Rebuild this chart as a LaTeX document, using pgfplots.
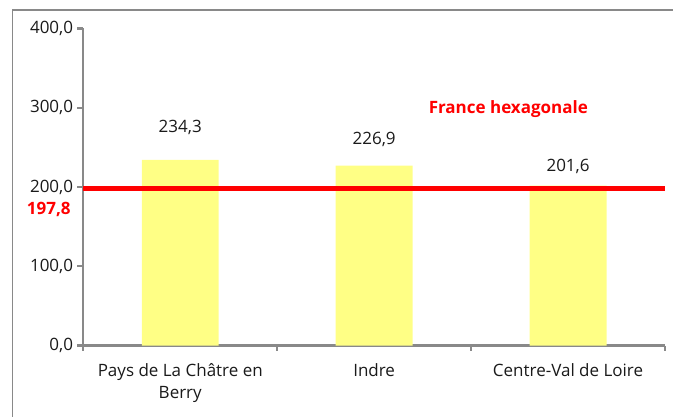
\documentclass[border=0pt]{standalone}
\usepackage{pgfplots}
\pgfplotsset{compat=1.18}
\usepackage{fontspec}
\setmainfont{Open Sans}
\definecolor{axisgray}{RGB}{137,137,137}
\definecolor{baryellow}{RGB}{255,255,133}
\definecolor{txt}{RGB}{26,26,26}
\begin{document}
\begin{tikzpicture}
\path[use as bounding box] (-83.3bp,-71.5bp) rectangle (589.7bp,345.5bp);
\draw[axisgray, line width=1.5bp] (-70.6bp,-75bp) -- (-70.6bp,335.5bp) -- (595bp,335.5bp);
\begin{axis}[
  at={(0bp,0bp)}, anchor=south west,
  scale only axis, width=581.7bp, height=317bp,
  xmin=-0.5, xmax=2.5, ymin=0, ymax=400,
  axis x line=bottom, axis y line=left,
  axis line style={draw=axisgray, line width=2.2bp, -},
  clip=false,
  font=\fontsize{17bp}{20bp}\selectfont,
  tick align=outside,
  ytick={0,100,200,300,400},
  ytick style={draw=axisgray, line width=2.2bp},
  major tick length=6bp,
  yticklabel style={/pgf/number format/.cd, fixed, fixed zerofill, precision=1, use comma, assume math mode=true, /tikz/.cd, text=txt, inner xsep=4bp},
  xtick={0,1,2},
  xticklabels={{Pays de La Châtre en\\Berry},Indre,Centre-Val de Loire},
  xtick style={draw=none},
  xticklabel style={align=center, anchor=north, inner sep=0pt, yshift=-12bp, text=txt, font=\fontsize{17bp}{22bp}\selectfont},
  extra x ticks={-0.5,0.5,1.5,2.5},
  extra x tick labels={},
  extra x tick style={xtick style={draw=axisgray, line width=2.2bp}, major tick length=5bp},
]
\addplot[ybar, bar width=0.397, fill=baryellow, draw=none] coordinates {(0,234.3) (1,226.9) (2,201.6)};
\addplot[red, line width=4.5bp] coordinates {(-0.5,197.8) (2.5,197.8)};
\node[anchor=base, text=txt] at (axis cs:0,269.0) {234,3};
\node[anchor=base, text=txt] at (axis cs:1,253.0) {226,9};
\node[anchor=base, text=txt] at (axis cs:2,219.0) {201,6};
\node[anchor=base, text=red, font=\fontsize{17bp}{20bp}\selectfont\bfseries] at (axis cs:1.692,293.0) {France hexagonale};
\node[anchor=base, text=red, font=\fontsize{17bp}{20bp}\selectfont\bfseries, xshift=-34.5bp] at (axis cs:-0.5,165.9) {197,8};
\end{axis}
\end{tikzpicture}
\end{document}
